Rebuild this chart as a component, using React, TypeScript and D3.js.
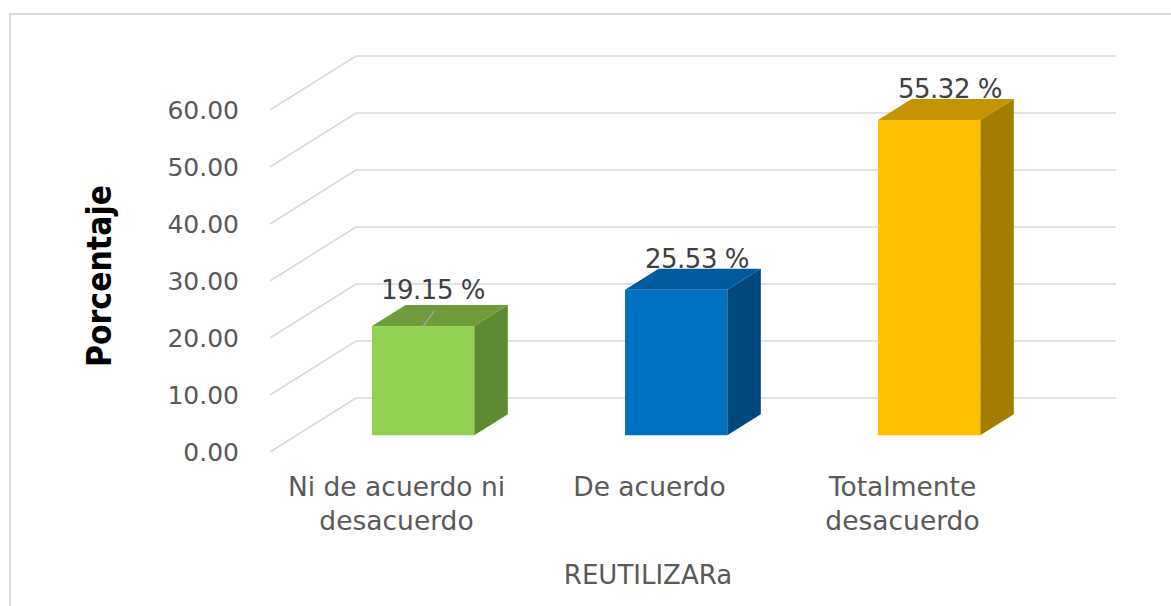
import React from "react";
import * as d3 from "d3";

const categories: string[][] = [
  ["Ni de acuerdo ni", "desacuerdo"],
  ["De acuerdo"],
  ["Totalmente", "desacuerdo"],
];
const values: number[] = [19.15, 25.53, 55.32];
const ticks: number[] = [0, 10, 20, 30, 40, 50, 60];
const frontColors = ["#92d050", "#0070c0", "#ffc000"];
const topColors = ["#6f9b3b", "#005a9e", "#c49500"];
const sideColors = ["#5c8a31", "#00497f", "#a37c00"];
const yTitle = "Porcentaje";
const xTitle = "REUTILIZARa";

const W = 1171;
const H = 606;
const FONT = "'DejaVu Sans', sans-serif";

// 3D projection: depth 1 => offset
const DX = 86;
const DY = -54;
const depthFront = 0.31;
const depthBack = 0.70;

export default function App() {
  const y = d3.scaleLinear().domain([0, 60]).range([452, 110]);
  const x = d3
    .scaleBand<number>()
    .domain(values.map((_, i) => i))
    .range([270, 1029]);
  const barW = x.bandwidth() * 0.404;
  const fmt = d3.format(".2f");
  const gridRight = 1116;

  return (
    <svg
      width={W}
      height={H}
      style={{ position: "absolute", left: 0, top: 0, background: "#fff" }}
    >
      <rect x={10} y={14} width={W + 20} height={H + 20} fill="#fff" stroke="#d9d9d9" strokeWidth={2} />
      {/* gridlines */}
      {ticks.map((t) => {
        const yf = y(t);
        const xb = 270 + DX;
        const yb = yf + DY;
        return (
          <path
            key={"g" + t}
            d={`M270,${yf}L${xb},${yb}L${gridRight},${yb}`}
            fill="none"
            stroke="#d9d9d9"
            strokeWidth={1.5}
          />
        );
      })}
      {/* tick labels */}
      {ticks.map((t) => (
        <text
          key={"t" + t}
          x={239}
          y={y(t)}
          textAnchor="end"
          dominantBaseline="central"
          fontFamily={FONT}
          fontSize={25}
          fill="#595959"
        >
          {fmt(t)}
        </text>
      ))}
      {/* bars */}
      {values.map((v, i) => {
        const cx = x(i)! + x.bandwidth() / 2;
        const ox = DX * depthFront;
        const oy = DY * depthFront;
        const bx = DX * (depthBack - depthFront);
        const by = DY * (depthBack - depthFront);
        const x0 = cx - barW / 2 + ox;
        const x1 = cx + barW / 2 + ox;
        const yb = y(0) + oy;
        const yt = y(v) + oy;
        return (
          <g key={"b" + i}>
            <path
              d={`M${x1},${yb}L${x1 + bx},${yb + by}L${x1 + bx},${yt + by}L${x1},${yt}Z`}
              fill={sideColors[i]}
            />
            <path
              d={`M${x0},${yt}L${x0 + bx},${yt + by}L${x1 + bx},${yt + by}L${x1},${yt}Z`}
              fill={topColors[i]}
            />
            <rect x={x0} y={yt} width={x1 - x0} height={yb - yt} fill={frontColors[i]} />
          </g>
        );
      })}
      {/* data labels */}
      {values.map((v, i) => {
        const cx = x(i)! + x.bandwidth() / 2 + DX * depthFront;
        const bx = DX * (depthBack - depthFront);
        const by = DY * (depthBack - depthFront);
        const yt = y(v) + DY * depthFront;
        const moved = i === 0;
        const lx = cx + bx * 0.62 + (moved ? -11 : 0);
        const ly = yt + by - 1 + (moved ? -5 : 0);
        return (
          <g key={"l" + i}>
            {moved && (
              <line x1={cx} y1={yt} x2={cx + 11} y2={yt - 15} stroke="#a6a6a6" strokeWidth={1.5} />
            )}
            <text
              x={lx}
              y={ly}
              textAnchor="middle"
              fontFamily={FONT}
              fontSize={26}
              fill="#404040"
              letterSpacing={-0.5}
            >
              {v.toFixed(2) + " %"}
            </text>
          </g>
        );
      })}
      {/* category labels */}
      {categories.map((lines, i) => {
        const cx = x(i)! + x.bandwidth() / 2;
        return (
          <text
            key={"c" + i}
            x={cx}
            y={496}
            textAnchor="middle"
            fontFamily={FONT}
            fontSize={26.5}
            fill="#595959"
          >
            {lines.map((l, j) => (
              <tspan key={j} x={cx} dy={j === 0 ? 0 : 34}>
                {l}
              </tspan>
            ))}
          </text>
        );
      })}
      {/* axis titles */}
      <text
        x={648}
        y={584}
        textAnchor="middle"
        fontFamily={FONT}
        fontSize={26}
        fill="#595959"
      >
        {xTitle}
      </text>
      <text
        transform={`translate(111,276) rotate(-90)`}
        textAnchor="middle"
        fontFamily={FONT}
        fontSize={33}
        fontWeight="bold"
        fill="#000"
        textLength={182}
        lengthAdjust="spacingAndGlyphs"
      >
        {yTitle}
      </text>
    </svg>
  );
}
